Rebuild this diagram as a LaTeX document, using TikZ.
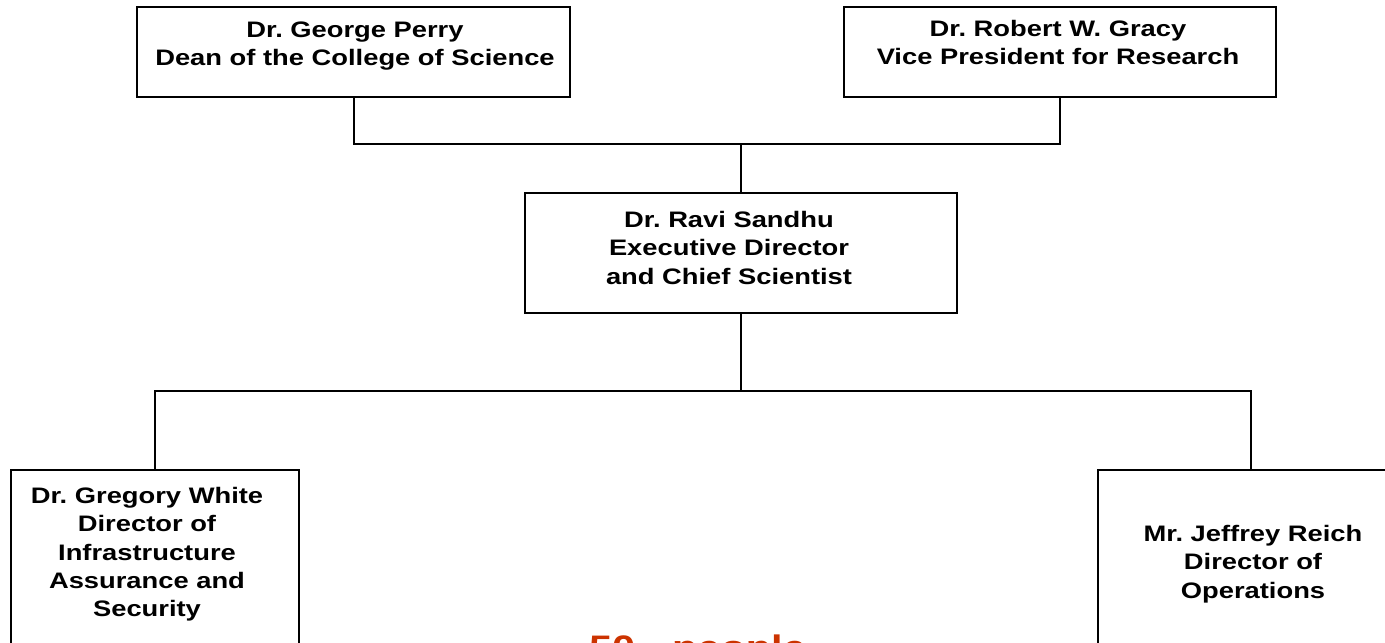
\documentclass[tikz,border=0pt]{standalone}
\usepackage{fontspec}
\setmainfont{Liberation Sans}[FakeStretch=1.22]
\definecolor{headcount}{HTML}{CC3300}
\frenchspacing

\begin{document}
\begin{tikzpicture}[
  x=0.5pt, y=-0.5pt,
  orgbox/.style={draw, line width=1pt, inner sep=0pt, outer sep=0pt, anchor=north west},
  orgtext/.style={font=\bfseries\fontsize{11.2}{14.2}\selectfont, align=center, inner sep=0pt, anchor=north},
  link/.style={line width=1pt}
]
\useasboundingbox (0,0) rectangle (1385,642);
\clip (0,0) rectangle (1385,642);

% top level
\node[orgbox, minimum width=216.5pt, minimum height=45pt] (perry) at (137,7) {};
\node[orgtext] (perrytext) at (355,17.1) {\strut Dr. George Perry\\Dean of the College of Science};
\node[orgbox, minimum width=216pt, minimum height=45pt] (gracy) at (844,7) {};
\node[orgtext] (gracytext) at (1058,16.1) {\strut Dr. Robert W. Gracy\\Vice President for Research};

% director
\node[orgbox, minimum width=216pt, minimum height=60pt] (sandhu) at (525,193) {};
\node[orgtext] (sandhutext) at (729,207.1) {\strut Dr. Ravi Sandhu\\Executive Director\\and Chief Scientist};

% second level
\node[orgbox, minimum width=144pt, minimum height=100pt] (white) at (11,470) {};
\node[orgtext] (whitetext) at (147,483.1) {\strut Dr. Gregory White\\Director of\\Infrastructure\\Assurance and\\Security};
\node[orgbox, minimum width=153pt, minimum height=100pt] (reich) at (1098,470) {};
\node[orgtext] (reichtext) at (1253,521.1) {\strut Mr. Jeffrey Reich\\Director of\\Operations};

% connectors
\coordinate (topjoin) at (sandhu.north |- 0,144);
\coordinate (botjoin) at (sandhu.south |- 0,391);
\draw[link] (perry.south) |- (topjoin) -| (gracy.south);
\draw[link] (topjoin) -- (sandhu.north);
\draw[link] (sandhu.south) -- (botjoin);
\draw[link] (white.north) |- (botjoin) -| (reich.north);

\node[font=\bfseries\fontsize{17}{21}\selectfont, text=headcount, inner sep=0pt, anchor=base] (people) at (697.5,659) {50 - people};
\end{tikzpicture}
\end{document}
